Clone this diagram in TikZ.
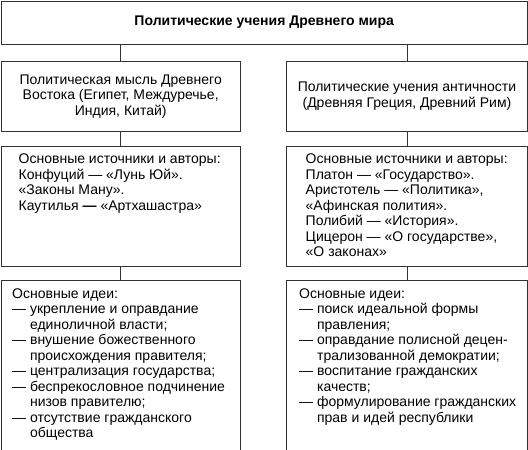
\documentclass[tikz,border=0pt]{standalone}
\usepackage{fontspec}
\setmainfont{Liberation Sans}
\usetikzlibrary{positioning}

\tikzset{
  box/.style={draw=black!80, line width=0.9pt, inner sep=0pt, anchor=north west},
  txt/.style={inner sep=0pt, align=left, anchor=north west,
    font=\fontsize{14}{15.5}\selectfont},
  conn/.style={draw=black!80, line width=0.9pt},
}
\newcommand\dashind{\hphantom{— }}

\begin{document}
\begin{tikzpicture}[x=1pt,y=1pt]
\useasboundingbox (0,0) rectangle (528,-450);

% title
\node[box, minimum width=526.5pt, minimum height=43pt,
      font=\bfseries\fontsize{14}{16}\selectfont] (title) at (0.5,-0.5)
      {Политические учения Древнего мира};

% second row
\node[box, minimum width=239.5pt, minimum height=69.5pt, align=center,
      font=\fontsize{14}{15.5}\selectfont] (vostok) at (0.5,-61)
      {Политическая мысль Древнего\\Востока (Египет, Междуречье,\\Индия, Китай)};
\node[box, minimum width=241pt, minimum height=69.5pt, align=center,
      font=\fontsize{14}{15.5}\selectfont] (antik) at (286,-61)
      {Политические учения античности\\(Древняя Греция, Древний Рим)};

% sources
\node[box, minimum width=239.5pt, minimum height=119.5pt] (vostok src) at (0.5,-146) {};
\node[box, minimum width=241pt, minimum height=119.5pt] (antik src) at (286,-146) {};
\node[txt, below right=8pt and 18pt of vostok src.north west] (vostok src txt)
  {Основные источники и авторы:\\
   Конфуций — «Лунь Юй».\\
   «Законы Ману».\\
   Каутилья \textbf{—} «Артхашастра»};
\node[txt, below right=8pt and 19.5pt of antik src.north west] (antik src txt)
  {Основные источники и авторы:\\
   Платон — «Государство».\\
   Аристотель — «Политика»,\\
   «Афинская полития».\\
   Полибий — «История».\\
   Цицерон — «О государстве»,\\
   «О законах»};

% ideas
\node[box, minimum width=239.5pt, minimum height=169.5pt] (vostok ideas) at (0.5,-280) {};
\node[box, minimum width=241pt, minimum height=169.5pt] (antik ideas) at (286,-280) {};
\node[txt, below right=8.5pt and 11.5pt of vostok ideas.north west] (vostok ideas txt)
  {Основные идеи:\\
   — укрепление и оправдание\\
   \dashind единоличной власти;\\
   — внушение божественного\\
   \dashind происхождения правителя;\\
   — централизация государства;\\
   — беспрекословное подчинение\\
   \dashind низов правителю;\\
   — отсутствие гражданского\\
   \dashind общества};
\node[txt, below right=8.5pt and 13pt of antik ideas.north west] (antik ideas txt)
  {Основные идеи:\\
   — поиск идеальной формы\\
   \dashind правления;\\
   — оправдание полисной децен-\\
   \dashind трализованной демократии;\\
   — воспитание гражданских\\
   \dashind качеств;\\
   — формулирование гражданских\\
   \dashind прав и идей республики};

% connectors
\foreach \a/\b in {title/vostok, vostok/vostok src, vostok src/vostok ideas}
  \draw[conn] (\b.north) -- (\b.north |- \a.south);
\foreach \a/\b in {title/antik, antik/antik src, antik src/antik ideas}
  \draw[conn] (\b.north) -- (\b.north |- \a.south);
\end{tikzpicture}
\end{document}
